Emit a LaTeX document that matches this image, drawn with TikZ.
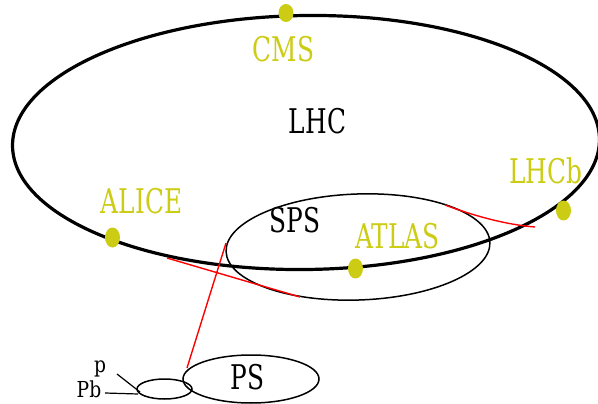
\documentclass[tikz,border=0pt]{standalone}
\usepackage{fontspec}
\setmainfont{DejaVu Serif}[FakeStretch=0.73]
\newfontfamily\smallserif{DejaVu Serif}[FakeStretch=0.85]
\usetikzlibrary{shapes.geometric}
\definecolor{detyellow}{RGB}{204,204,20}
\definecolor{beamred}{RGB}{255,0,0}
\tikzset{
  ring/.style={draw=black, ellipse, inner sep=0pt, fill=none},
  dotmark/.style={ellipse, fill=detyellow, inner sep=0pt, minimum width=15, minimum height=20},
  biglabel/.style={inner sep=0pt, font=\fontsize{34}{40}\selectfont},
  detlabel/.style={biglabel, text=detyellow},
  smalllabel/.style={inner sep=0pt, font=\smallserif\fontsize{22}{26}\selectfont},
  beam/.style={draw=beamred, line width=1.4},
}
\begin{document}
\begin{tikzpicture}[x=1pt,y=-1pt]
\useasboundingbox (0,0) rectangle (598,404);
% rings
\node[ring, line width=3.2, minimum width=587, minimum height=254, rotate=0.7] (lhc) at (306,142.5) {};
\node[ring, line width=1.5, minimum width=264, minimum height=106, rotate=2] (sps) at (358,247) {};
\node[ring, line width=1.5, minimum width=136, minimum height=48] (ps) at (251,379) {};
\node[ring, line width=1.5, minimum width=55, minimum height=20] (inj) at (164.5,389) {};
% red transfer lines
\coordinate (psout) at (187,368);
\coordinate (spsin) at (226,243);
\coordinate (lhcinA) at (167,258);
\coordinate (spsoutA) at (300,297);
\coordinate (spsoutB) at (445,205);
\coordinate (lhcinB) at (535,227);
\draw[beam] (psout) -- (spsin);
\draw[beam] (spsoutA) -- (lhcinA);
\draw[beam] (spsoutB) .. controls (480,218) and (510,225) .. (lhcinB);
% detectors
\node[dotmark, minimum height=18] (cmsdot) at (286,13) {};
\node[dotmark] (alicedot) at (112.5,237.5) {};
\node[dotmark] (lhcbdot) at (563.5,210.5) {};
\node[dotmark] (atlasdot) at (355.5,268.5) {};
% labels
\node[detlabel] (cms) at (283.5,49.5) {CMS};
\node[detlabel] (alice) at (141.5,201.5) {ALICE};
\node[detlabel] (atlas) at (397.5,236.5) {ATLAS};
\node[detlabel, anchor=base] (lhcb) at (546,183.3) {LHCb};
\node[biglabel] (lhclab) at (317.5,121) {LHC};
\node[biglabel] (spslab) at (295,220) {SPS};
\node[biglabel] (pslab) at (247.5,377.5) {PS};
% injection
\node[smalllabel, anchor=base] (p) at (100,372) {p};
\node[smalllabel, anchor=base] (pb) at (89,397) {Pb};
\coordinate (pend) at (140,392);
\coordinate (pbend) at (138,394);
\coordinate (pstart) at (117,374);
\coordinate (pbstart) at (105,393);
\draw[line width=1.2] (pstart) -- (pend);
\draw[line width=1.2] (pbstart) -- (pbend);
\end{tikzpicture}
\end{document}
